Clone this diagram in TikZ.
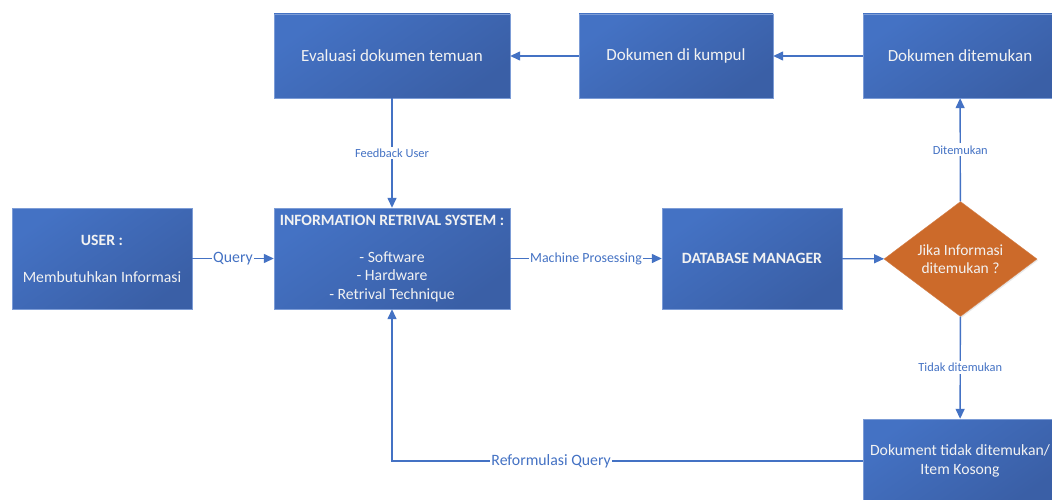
\documentclass[tikz,border=0pt]{standalone}
\usepackage{fontspec}
\setmainfont{Carlito}
\usetikzlibrary{shapes.geometric,arrows.meta,shadows}

\definecolor{boxlight}{HTML}{4472C4}
\definecolor{boxdark}{HTML}{3A5FA6}
\definecolor{decfill}{HTML}{CC6A2A}
\definecolor{linkblue}{HTML}{4472C4}
\definecolor{boxtext}{HTML}{F2F2F2}

\tikzset{
  procbox/.style={rectangle, shading=axis, top color=boxlight, bottom color=boxdark,
    shading angle=35, draw=boxlight!70!white, line width=0.4pt,
    drop shadow={opacity=0.18, shadow xshift=1.2pt, shadow yshift=-1.2pt},
    text=boxtext, align=center, inner sep=2pt,
    font=\fontsize{15.7}{18.5}\selectfont},
  topbox/.style={procbox, minimum height=84pt,
    font=\fontsize{17}{20}\selectfont},
  decision/.style={diamond, fill=decfill, draw=decfill!85!white, line width=0.4pt,
    drop shadow={opacity=0.18, shadow xshift=1.2pt, shadow yshift=-1.2pt},
    text=boxtext, align=center, inner sep=0pt,
    minimum width=153pt, minimum height=114pt,
    font=\fontsize{15.5}{18.5}\selectfont},
  link/.style={draw=linkblue, line width=1.4pt,
    -{Triangle[length=10pt,width=9pt]}},
  biglabel/.style={fill=white, text=linkblue, inner sep=1pt,
    font=\fontsize{15.8}{18}\selectfont},
  smalllabel/.style={fill=white, text=linkblue, inner sep=2pt,
    font=\fontsize{12.4}{14}\selectfont},
}

\begin{document}
\begin{tikzpicture}[x=1pt,y=-1pt]
\useasboundingbox (0,0) rectangle (1052,500);
\clip (0,0) rectangle (1052,500);
\fill[white] (0,0) rectangle (1052,500);

% middle row
\node[procbox, minimum width=180pt, minimum height=101pt] (user) at (102,258.5)
  {\textbf{USER :}\\[18.5pt]Membutuhkan Informasi};
\node[procbox, minimum width=236pt, minimum height=101pt] (irs) at (392,258.5)
  {\textbf{INFORMATION RETRIVAL SYSTEM :}\\[18.5pt]- Software\\- Hardware\\- Retrival Technique};
\node[procbox, minimum width=180pt, minimum height=101pt] (db) at (752,258.5)
  {\textbf{DATABASE MANAGER}};
\node[decision] (dec) at (960.5,259) {Jika Informasi\\ditemukan ?};

% top row
\node[topbox, minimum width=236pt] (eval) at (392,56) {Evaluasi dokumen temuan};
\node[topbox, minimum width=194pt] (kumpul) at (676,56) {Dokumen di kumpul};
\node[topbox, minimum width=194pt] (found) at (960,56) {Dokumen ditemukan};

% bottom right
\node[procbox, minimum width=194pt, minimum height=84pt] (notfound) at (960,461)
  {Dokument tidak ditemukan/\\Item Kosong};

% connectors
\draw[link] (user) -- node[biglabel] {Query} (irs);
\draw[link] (irs) -- node[biglabel, font=\fontsize{13.9}{16}\selectfont] {Machine Prosessing} (db);
\draw[link] (db) -- (dec);
\draw[link] (dec) -- node[smalllabel] {Ditemukan} (found);
\draw[link] (dec) -- node[smalllabel] {Tidak ditemukan} (notfound);
\draw[link] (found) -- (kumpul);
\draw[link] (kumpul) -- (eval);
\draw[link] (eval) -- node[smalllabel] {Feedback User} (irs);
\draw[link] (notfound.west) -| node[biglabel, pos=0.331] {Reformulasi Query} (irs.south);
\end{tikzpicture}
\end{document}
